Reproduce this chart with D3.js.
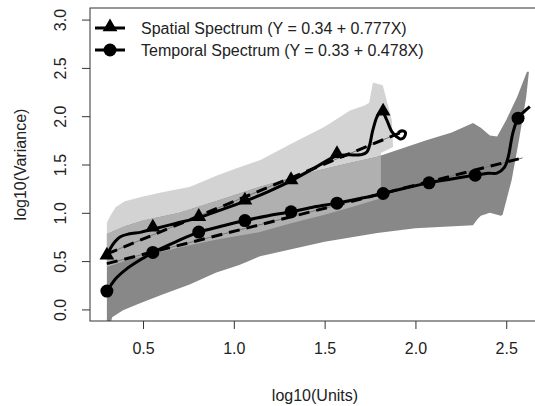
<!DOCTYPE html>
<html>
<head>
<meta charset="utf-8">
<script src="https://cdn.jsdelivr.net/npm/d3@7"></script>
<style>
  body { margin: 0; background: #fff; }
  text { font-family: "Liberation Sans", Arial, sans-serif; fill: #222; }
</style>
</head>
<body>
<div id="wrapper"></div>
<script>
// ---- data ----
const seriesNames = ["Spatial Spectrum", "Temporal Spectrum"];
const fitIntercepts = [0.34, 0.33];
const fitSlopes = [0.777, 0.478];
const fitRanges = [[0.301, 1.94], [0.301, 2.59]];

const xTicks = [0.5, 1.0, 1.5, 2.0, 2.5];
const yTicks = [0.0, 0.5, 1.0, 1.5, 2.0, 2.5, 3.0];

// spatial curve [log10(units), log10(variance)]
const spatialLine = [
  [0.301, 0.55], [0.32, 0.63], [0.345, 0.70], [0.373, 0.75], [0.42, 0.78],
  [0.49, 0.80], [0.554, 0.83], [0.68, 0.89], [0.807, 0.95], [0.93, 1.03],
  [1.061, 1.12], [1.19, 1.22], [1.315, 1.33], [1.44, 1.46], [1.568, 1.59],
  [1.63, 1.60], [1.695, 1.60], [1.733, 1.63], [1.766, 1.86], [1.79, 2.0],
  [1.815, 2.05], [1.84, 1.97], [1.87, 1.84], [1.895, 1.79], [1.915, 1.765],
  [1.935, 1.775], [1.945, 1.83], [1.925, 1.85], [1.905, 1.83]
];
const spatialMarkers = [
  [0.301, 0.55], [0.554, 0.84], [0.807, 0.95], [1.061, 1.12],
  [1.315, 1.33], [1.568, 1.60], [1.822, 2.04]
];

const temporalLine = [
  [0.301, 0.19], [0.33, 0.27], [0.355, 0.33], [0.41, 0.42], [0.5, 0.53],
  [0.554, 0.59], [0.68, 0.70], [0.807, 0.80], [0.93, 0.86], [1.061, 0.92],
  [1.19, 0.97], [1.315, 1.01], [1.44, 1.06], [1.568, 1.10], [1.70, 1.15],
  [1.822, 1.20], [1.95, 1.26], [2.075, 1.31], [2.20, 1.35], [2.329, 1.39],
  [2.40, 1.41], [2.449, 1.41], [2.49, 1.47], [2.51, 1.57], [2.537, 1.83],
  [2.565, 1.98], [2.60, 2.05], [2.63, 2.10]
];
const temporalMarkers = [
  [0.301, 0.19], [0.554, 0.59], [0.807, 0.80], [1.061, 0.92], [1.315, 1.01],
  [1.568, 1.10], [1.822, 1.20], [2.075, 1.31], [2.329, 1.39], [2.565, 1.98]
];

// envelopes (upper edge left->right, lower edge left->right)
const spatialUpper = [
  [0.301, 0.90], [0.32, 0.97], [0.35, 1.06], [0.40, 1.12], [0.5, 1.17],
  [0.6, 1.21], [0.76, 1.27], [0.9, 1.38], [1.0, 1.45], [1.15, 1.55],
  [1.3, 1.70], [1.5, 1.89], [1.64, 2.06], [1.72, 2.11], [1.745, 2.14],
  [1.766, 2.35], [1.82, 2.32], [1.87, 1.96], [1.877, 1.68]
];
const spatialLower = [
  [0.301, 0.44], [0.4, 0.50], [0.5, 0.55], [0.7, 0.64], [0.9, 0.72],
  [1.144, 0.80], [1.31, 0.89], [1.5, 0.98], [1.65, 1.06], [1.81, 1.15],
  [1.81, 1.62], [1.877, 1.68]
];
const temporalUpper = [
  [0.301, 0.78], [0.4, 0.86], [0.5, 0.92], [0.7, 1.0], [0.9, 1.12],
  [1.144, 1.27], [1.4, 1.41], [1.6, 1.50], [1.79, 1.58], [2.06, 1.75],
  [2.2, 1.83], [2.317, 1.93], [2.36, 1.88], [2.41, 1.80], [2.45, 1.79],
  [2.5, 1.96], [2.56, 2.2], [2.614, 2.46], [2.625, 2.46]
];
const temporalLower = [
  [0.301, -0.3], [0.33, -0.08], [0.39, -0.01], [0.48, 0.06], [0.6, 0.15],
  [0.76, 0.26], [0.9, 0.38], [1.03, 0.46], [1.144, 0.55], [1.31, 0.62],
  [1.5, 0.70], [1.79, 0.79], [2.0, 0.84], [2.317, 0.87], [2.34, 0.93],
  [2.36, 0.97], [2.41, 1.0], [2.47, 0.97], [2.48, 0.98], [2.53, 1.34],
  [2.57, 1.75], [2.61, 2.2], [2.625, 2.46]
];

// ---- dimensions ----
const width = 535;
const height = 406;
const plot = { left: 90, right: 546, top: 8, bottom: 321 };

const svg = d3.select("#wrapper").append("svg")
  .attr("width", width)
  .attr("height", height);

const x = d3.scaleLinear().domain([0.208, 2.719]).range([plot.left, plot.right]);
const y = d3.scaleLinear().domain([-0.12, 3.12]).range([plot.bottom, plot.top]);

const defs = svg.append("defs");
defs.append("clipPath").attr("id", "plot-clip")
  .append("rect")
  .attr("x", plot.left).attr("y", plot.top)
  .attr("width", plot.right - plot.left).attr("height", plot.bottom - plot.top);

const polyOf = (upper, lower) => upper.concat(lower.slice().reverse());
const area = d3.line().x((d) => x(d[0])).y((d) => y(d[1]));

const spatialPoly = polyOf(spatialUpper, spatialLower);
const temporalPoly = polyOf(temporalUpper, temporalLower);

defs.append("clipPath").attr("id", "temporal-clip")
  .append("path").attr("d", area(temporalPoly) + "Z");

const bounds = svg.append("g").attr("clip-path", "url(#plot-clip)");

// bands
bounds.append("path").attr("d", area(spatialPoly) + "Z").attr("fill", "#d3d3d3");
bounds.append("path").attr("d", area(temporalPoly) + "Z").attr("fill", "#888888");
bounds.append("g").attr("clip-path", "url(#temporal-clip)")
  .append("path").attr("d", area(spatialPoly) + "Z").attr("fill", "#b0b0b0");

// fitted lines
fitIntercepts.forEach((a, i) => {
  const ends = fitRanges[i].map((v) => [v, a + fitSlopes[i] * v]);
  bounds.append("path").attr("d", area(ends))
    .attr("stroke", "#777").attr("stroke-width", 1).attr("fill", "none");
  bounds.append("path").attr("d", area(ends))
    .attr("stroke", "#000").attr("stroke-width", 3)
    .attr("stroke-dasharray", "11,7").attr("fill", "none");
});

// curves
const curve = d3.line().x((d) => x(d[0])).y((d) => y(d[1]))
  .curve(d3.curveCatmullRom.alpha(0.5));
[spatialLine, temporalLine].forEach((pts) => {
  bounds.append("path").attr("d", curve(pts))
    .attr("stroke", "#000").attr("stroke-width", 3)
    .attr("stroke-linejoin", "round").attr("fill", "none");
});

const triangle = d3.symbol().type(d3.symbolTriangle).size(95);
bounds.selectAll(".tri").data(spatialMarkers).join("path")
  .attr("class", "tri")
  .attr("d", triangle)
  .attr("transform", (d) => `translate(${x(d[0])},${y(d[1]) - 1})`)
  .attr("fill", "#000");

bounds.selectAll(".dot").data(temporalMarkers).join("circle")
  .attr("class", "dot")
  .attr("cx", (d) => x(d[0])).attr("cy", (d) => y(d[1]))
  .attr("r", 6.5).attr("fill", "#000");

// box + axes
svg.append("rect")
  .attr("x", plot.left).attr("y", plot.top)
  .attr("width", plot.right - plot.left).attr("height", plot.bottom - plot.top)
  .attr("fill", "none").attr("stroke", "#333").attr("stroke-width", 1);

const xAxis = svg.append("g").attr("transform", `translate(0,${plot.bottom})`)
  .call(d3.axisBottom(x).tickValues(xTicks).tickFormat(d3.format(".1f")).tickSize(8).tickPadding(14));
const yAxis = svg.append("g").attr("transform", `translate(${plot.left},0)`)
  .call(d3.axisLeft(y).tickValues(yTicks).tickFormat(d3.format(".1f")).tickSize(8));
[xAxis, yAxis].forEach((g) => {
  g.select(".domain").remove();
  g.selectAll(".tick line").attr("stroke", "#333");
  g.selectAll(".tick text").style("font-size", "16px").attr("fill", "#222");
});
xAxis.selectAll(".tick text").attr("dy", "0.71em");
yAxis.selectAll(".tick text")
  .attr("x", null).attr("dy", null)
  .attr("text-anchor", "middle")
  .attr("dominant-baseline", "central")
  .attr("transform", "translate(-30,0) rotate(-90)");

svg.append("text")
  .attr("x", (plot.left + plot.right) / 2 - 3).attr("y", 395)
  .attr("text-anchor", "middle").attr("dominant-baseline", "central")
  .style("font-size", "16px").text("log10(Units)");
svg.append("text")
  .attr("transform", `translate(20,${(plot.top + plot.bottom) / 2}) rotate(-90)`)
  .attr("text-anchor", "middle").attr("dominant-baseline", "central")
  .style("font-size", "16px").text("log10(Variance)");

// legend
const legendLabels = seriesNames.map((n, i) =>
  `${n} (Y = ${fitIntercepts[i].toFixed(2)} + ${fitSlopes[i].toFixed(3)}X)`);
const legend = svg.append("g");
legendLabels.forEach((label, i) => {
  const ly = 28 + i * 22;
  legend.append("line").attr("x1", 95).attr("x2", 125).attr("y1", ly).attr("y2", ly)
    .attr("stroke", "#000").attr("stroke-width", 3);
  if (i === 0) {
    legend.append("path").attr("d", triangle).attr("transform", `translate(110,${ly - 1})`);
  } else {
    legend.append("circle").attr("cx", 110).attr("cy", ly).attr("r", 6.5);
  }
  legend.append("text").attr("x", 141).attr("y", ly)
    .attr("dominant-baseline", "central")
    .style("font-size", "16px").text(label);
});
</script>
</body>
</html>
